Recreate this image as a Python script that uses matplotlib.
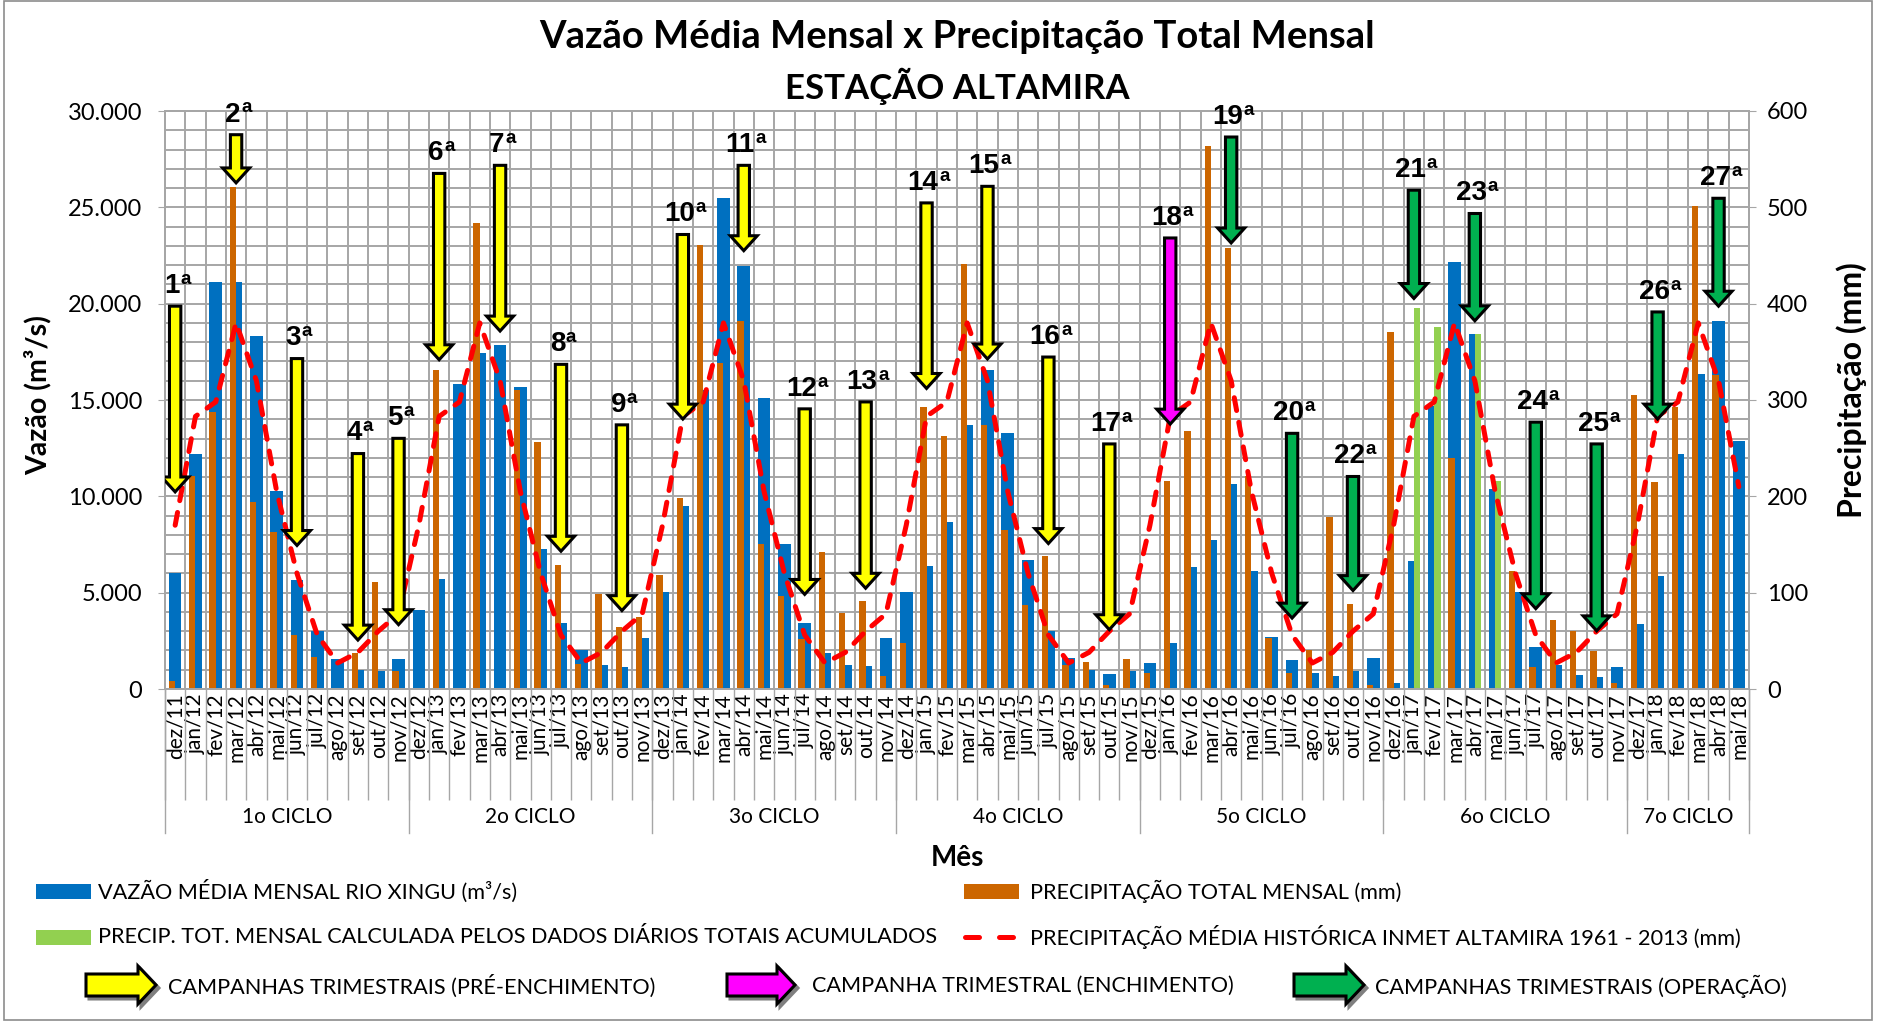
import numpy as np
import matplotlib
matplotlib.use('Agg')
import matplotlib.pyplot as plt
from matplotlib.patches import FancyArrow, Rectangle, Polygon
from matplotlib.lines import Line2D
import matplotlib.transforms as mtransforms
from matplotlib.ticker import FuncFormatter

plt.rcParams['font.family'] = ['Lato', 'DejaVu Sans']

nan = np.nan

# ---------------- data ----------------
months = ['dez/11', 'jan/12', 'fev/12', 'mar/12', 'abr/12', 'mai/12', 'jun/12', 'jul/12', 'ago/12', 'set/12', 'out/12', 'nov/12',
          'dez/12', 'jan/13', 'fev/13', 'mar/13', 'abr/13', 'mai/13', 'jun/13', 'jul/13', 'ago/13', 'set/13', 'out/13', 'nov/13',
          'dez/13', 'jan/14', 'fev/14', 'mar/14', 'abr/14', 'mai/14', 'jun/14', 'jul/14', 'ago/14', 'set/14', 'out/14', 'nov/14',
          'dez/14', 'jan/15', 'fev/15', 'mar/15', 'abr/15', 'mai/15', 'jun/15', 'jul/15', 'ago/15', 'set/15', 'out/15', 'nov/15',
          'dez/15', 'jan/16', 'fev/16', 'mar/16', 'abr/16', 'mai/16', 'jun/16', 'jul/16', 'ago/16', 'set/16', 'out/16', 'nov/16',
          'dez/16', 'jan/17', 'fev/17', 'mar/17', 'abr/17', 'mai/17', 'jun/17', 'jul/17', 'ago/17', 'set/17', 'out/17', 'nov/17',
          'dez/17', 'jan/18', 'fev/18', 'mar/18', 'abr/18', 'mai/18']

cycle_names = ['1o CICLO', '2o CICLO', '3o CICLO', '4o CICLO', '5o CICLO', '6o CICLO', '7o CICLO']
cycle_lengths = [12, 12, 12, 12, 12, 12, 6]

# Vazão média mensal Rio Xingu (m³/s)
vazao = [6000, 12200, 21100, 21100, 18300, 10300, 5650, 3000, 1550, 1000, 950, 1550,
         4100, 5700, 15850, 17450, 17850, 15700, 7250, 3450, 2000, 1250, 1150, 2650,
         5050, 9500, 15500, 25500, 21950, 15100, 7550, 3450, 1850, 1250, 1200, 2650,
         5050, 6400, 8650, 13700, 16550, 13300, 6700, 3000, 1600, 1000, 800, 950,
         1350, 2400, 6350, 7750, 10650, 6100, 2700, 1500, 850, 700, 950, 1600,
         300, 6650, 14700, 22150, 18400, 10400, 5050, 2200, 1250, 750, 600, 1150,
         3350, 5850, 12200, 16350, 19100, 12850]

# Precipitação total mensal (mm)
precip = [8, 221, 288, 521, 194, 163, 56, 33, 0, 37, 111, 19,
          0, 331, nan, 484, nan, 310, 256, 129, 26, 99, 64, 75,
          118, 198, 461, 338, 382, 150, 97, 52, 142, 79, 91, 14,
          48, 293, 263, 441, 274, 165, 87, 138, 25, 28, 4, 31,
          17, 216, 268, 564, 458, 221, 53, 17, 41, 179, 88, 4,
          371, nan, nan, 240, nan, nan, 122, 23, 72, 60, 39, 6,
          305, 215, 293, 501, 326, nan]

# Precip. tot. mensal calculada pelos dados diários (mm)
precip_calc = [nan] * 12 + [nan] * 12 + [nan] * 12 + [nan] * 12 + [nan] * 12 + \
              [nan, 395, 376, nan, 369, 216, nan, nan, nan, nan, nan, nan] + [nan] * 6

# Precipitação média histórica INMET Altamira 1961-2013 (mm)
precip_hist = [170, 283, 298, 380, 320, 205, 120, 56, 27, 38, 60, 78,
               170, 283, 298, 380, 320, 205, 120, 56, 27, 38, 60, 78,
               170, 283, 298, 380, 320, 205, 120, 56, 27, 38, 60, 78,
               170, 283, 298, 380, 320, 205, 120, 56, 27, 38, 60, 78,
               170, 283, 298, 380, 320, 205, 120, 56, 27, 38, 60, 78,
               170, 283, 298, 380, 320, 205, 120, 56, 27, 38, 60, 78,
               170, 283, 298, 380, 320, 210]

# Campanhas trimestrais
camp_labels = ['1', '2', '3', '4', '5', '6', '7', '8', '9', '10', '11', '12', '13', '14',
               '15', '16', '17', '18', '19', '20', '22', '21', '23', '24', '25', '26', '27']
camp_months = ['dez/11', 'mar/12', 'jun/12', 'set/12', 'nov/12', 'jan/13', 'abr/13', 'jul/13', 'out/13',
               'jan/14', 'abr/14', 'jul/14', 'out/14', 'jan/15', 'abr/15', 'jul/15', 'out/15',
               'jan/16', 'abr/16', 'jul/16', 'out/16', 'jan/17', 'abr/17', 'jul/17', 'out/17', 'jan/18', 'abr/18']
camp_top = [19870, 28770, 17150, 12220, 13010, 26760, 27180, 16850, 13710,
            23590, 27180, 14540, 14900, 25230, 26090, 17230, 12720,
            23410, 28650, 13270, 11030, 25890, 24680, 13850, 12720, 19570, 25470]
camp_tip = [10230, 26270, 7450, 2540, 3340, 17090, 18580, 7150, 4070,
            14010, 22750, 4910, 5230, 15600, 17130, 7550, 3080,
            13750, 23150, 3680, 5110, 20270, 19110, 4170, 3020, 14010, 19870]
camp_kind = ['pre'] * 17 + ['ench'] + ['oper'] * 9

# ---------------- styles ----------------
C_BLUE = '#0070C0'
C_ORANGE = '#CC6600'
C_LGREEN = '#92D050'
C_RED = '#FF0000'
C_GRID = '#A6A6A6'
ARROW_COLORS = {'pre': '#FFFF00', 'ench': '#FF00FF', 'oper': '#00B050'}
ARIAL_BOLD = dict(family=['Liberation Sans', 'DejaVu Sans'], weight='bold')

W, H, DPI = 1879, 1022, 100
fig = plt.figure(figsize=(W / DPI, H / DPI), dpi=DPI)


def fx(px):
    return px / W


def fy(py):
    return 1 - py / H


L, R, T, B = 165, 1749, 111, 689
ax = fig.add_axes([fx(L), fy(B), (R - L) / W, (B - T) / H])
ax2 = ax.twinx()

x = np.arange(len(months))
ax.set_axisbelow(True)
ax.bar(x, vazao, width=0.62, color=C_BLUE, zorder=2)
ax2.bar(x - 0.155, precip, width=0.31, color=C_ORANGE, zorder=2)
ax2.bar(x + 0.155, precip_calc, width=0.31, color=C_LGREEN, zorder=2)
ax2.plot(x, precip_hist, color=C_RED, lw=3.6, ls=(0, (2.6, 2.4)), dash_capstyle='round', zorder=3)

ax.set_xlim(-0.5, len(months) - 0.5)
ax.set_ylim(0, 30000)
ax2.set_ylim(0, 600)

ax.set_yticks(np.arange(0, 30001, 5000))
ax.set_yticks(np.arange(0, 30001, 1000), minor=True)
ax.yaxis.set_major_formatter(FuncFormatter(lambda v, p: '{:,.0f}'.format(v).replace(',', '.')))
ax2.set_yticks(np.arange(0, 601, 100))

ax.set_xticks(x)
ax.set_xticklabels(months, rotation=90, fontsize=15)
ax.set_xticks(np.arange(-0.5, len(months), 1), minor=True)

ax.grid(which='both', axis='y', color=C_GRID, lw=1.4)
ax.grid(which='minor', axis='x', color=C_GRID, lw=1.4)
ax.grid(which='major', axis='x', visible=False)

ax.tick_params(axis='y', which='major', length=5, color=C_GRID, labelsize=17, pad=11.5)
ax.tick_params(axis='y', which='minor', length=0)
ax.tick_params(axis='x', which='major', length=0, pad=3)
ax.tick_params(axis='x', which='minor', length=80, color=C_GRID, width=1.0)
ax2.tick_params(axis='y', length=5, color=C_GRID, labelsize=17, pad=8)
for a in (ax, ax2):
    for s in a.spines.values():
        s.set_color(C_GRID)
        s.set_linewidth(1.4)

# cycle level of category axis
trans = mtransforms.blended_transform_factory(ax.transData, ax.transAxes)
edges = np.concatenate([[0], np.cumsum(cycle_lengths)]) - 0.5
for e in edges:
    ax.add_line(Line2D([e, e], [0, -(833 - B) / (B - T)], transform=trans, color=C_GRID,
                       lw=1.0, clip_on=False))
for name, a0, a1 in zip(cycle_names, edges[:-1], edges[1:]):
    ax.text((a0 + a1) / 2, -(817 - B) / (B - T), name, transform=trans, ha='center', va='center',
            fontsize=15)

# campaign arrows
for lab, mon, top, tip, kind in zip(camp_labels, camp_months, camp_top, camp_tip, camp_kind):
    k = months.index(mon)
    arr = FancyArrow(k, top / 50.0, 0, -(top - tip) / 50.0, width=0.56, head_width=1.33,
                     head_length=15.5, length_includes_head=True, facecolor=ARROW_COLORS[kind],
                     edgecolor='black', lw=2.2, joinstyle='miter', zorder=6)
    ax2.add_patch(arr)
    num = ax2.annotate(lab, xy=(k, top / 50.0), xytext=(-2.5, 9.5), textcoords='offset points',
                       ha='center', va='baseline', fontsize=20, zorder=7, **ARIAL_BOLD)
    ax2.annotate('a', xy=(1, 1), xycoords=num, xytext=(0.5, 1.5), textcoords='offset points',
                 ha='left', va='top', fontsize=13.5, zorder=7, **ARIAL_BOLD)

# titles and axis labels
fig.text(fx((L + R) / 2), fy(37), 'Vazão Média Mensal x Precipitação Total Mensal', ha='center',
         va='center', fontsize=27.5, fontweight='bold')
fig.text(fx((L + R) / 2), fy(86), 'ESTAÇÃO ALTAMIRA', ha='center', va='center', fontsize=25,
         fontweight='bold')
fig.text(fx(38), fy(395), 'Vazão (m³/s)', rotation=90, ha='center', va='center', fontsize=20.5,
         fontweight='bold')
fig.text(fx(1852), fy(390), 'Precipitação (mm)', rotation=90, ha='center', va='center', fontsize=23,
         fontweight='bold')
fig.text(fx((L + R) / 2), fy(858), 'Mês', ha='center', va='center', fontsize=20, fontweight='bold')

# legend (manual)
LEG_FS = 15.6


def leg_box(x0, yc, color):
    fig.patches.append(Rectangle((fx(x0), fy(yc + 7.5)), 55 / W, 15 / H, transform=fig.transFigure,
                                 facecolor=color, edgecolor='none'))


def leg_text(x0, yc, s):
    fig.text(fx(x0), fy(yc), s, ha='left', va='center', fontsize=LEG_FS)


leg_box(36, 891, C_BLUE)
leg_text(98, 891, 'VAZÃO MÉDIA MENSAL RIO XINGU (m³/s)')
leg_box(964, 891, C_ORANGE)
leg_text(1030, 891, 'PRECIPITAÇÃO TOTAL MENSAL (mm)')
leg_box(36, 937, C_LGREEN)
leg_text(98, 937, 'PRECIP. TOT. MENSAL CALCULADA PELOS DADOS DIÁRIOS TOTAIS ACUMULADOS')
fig.lines.append(Line2D([fx(964.5), fx(1016)], [fy(937), fy(937)], transform=fig.transFigure,
                        color=C_RED, lw=3.6, ls=(0, (2.8, 4.0)), dash_capstyle='round'))
leg_text(1030, 937, 'PRECIPITAÇÃO MÉDIA HISTÓRICA INMET ALTAMIRA 1961 - 2013 (mm)')


def leg_arrow(x0, x1, yc, color):
    hs, hh, hl = 11, 19, 18
    pts = [(x0, yc - hs), (x1 - hl, yc - hs), (x1 - hl, yc - hh), (x1, yc), (x1 - hl, yc + hh),
           (x1 - hl, yc + hs), (x0, yc + hs)]
    sh = [(fx(px + 3), fy(py + 3)) for px, py in pts]
    fig.patches.append(Polygon(sh, closed=True, transform=fig.transFigure, facecolor='#7F7F7F',
                               edgecolor='#7F7F7F', lw=2.2, joinstyle='miter'))
    pp = [(fx(px), fy(py)) for px, py in pts]
    fig.patches.append(Polygon(pp, closed=True, transform=fig.transFigure, facecolor=color,
                               edgecolor='black', lw=2.2, joinstyle='miter'))


leg_arrow(86, 156, 985, ARROW_COLORS['pre'])
leg_text(168, 986, 'CAMPANHAS TRIMESTRAIS (PRÉ-ENCHIMENTO)')
leg_arrow(727, 795, 985, ARROW_COLORS['ench'])
leg_text(812, 986, 'CAMPANHA TRIMESTRAL (ENCHIMENTO)')
leg_arrow(1294, 1364, 985, ARROW_COLORS['oper'])
leg_text(1375, 986, 'CAMPANHAS TRIMESTRAIS (OPERAÇÃO)')

# outer border
fig.patches.append(Rectangle((fx(4), fy(1020)), (1872 - 4) / W, (1020 - 1) / H, transform=fig.transFigure,
                             fill=False, edgecolor='#8C8C8C', lw=1.2))

fig.savefig('out.png', dpi=DPI)
